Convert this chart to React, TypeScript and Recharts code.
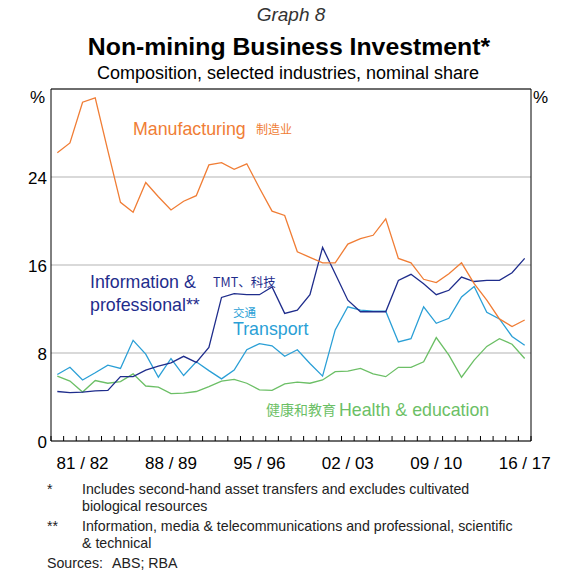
import React from 'react';
import {
  LineChart,
  Line,
  XAxis,
  YAxis,
  CartesianGrid,
  ReferenceLine,
} from 'recharts';

// financial years 1979/80 .. 2016/17
const years = [
  '79/80', '80/81', '81/82', '82/83', '83/84', '84/85', '85/86', '86/87', '87/88', '88/89',
  '89/90', '90/91', '91/92', '92/93', '93/94', '94/95', '95/96', '96/97', '97/98', '98/99',
  '99/00', '00/01', '01/02', '02/03', '03/04', '04/05', '05/06', '06/07', '07/08', '08/09',
  '09/10', '10/11', '11/12', '12/13', '13/14', '14/15', '15/16', '16/17',
];

const manufacturing = [
  26.2, 27.1, 30.8, 31.2, 26.4, 21.7, 20.8, 23.5, 22.2, 21.0,
  21.8, 22.3, 25.1, 25.3, 24.7, 25.2, 23.0, 20.9, 20.5, 17.2,
  16.7, 16.2, 16.2, 17.9, 18.4, 18.7, 20.2, 16.6, 16.2, 14.7,
  14.4, 15.2, 16.2, 14.3, 12.8, 11.1, 10.4, 11.0,
];

const infoProfessional = [
  4.5, 4.4, 4.45, 4.55, 4.6, 5.85, 5.85, 6.45, 6.8, 7.1,
  7.7, 7.15, 8.5, 13.05, 13.4, 13.3, 13.3, 14.0, 11.6, 11.9,
  13.3, 17.6, 15.2, 12.8, 11.75, 11.75, 11.75, 14.6, 15.15, 14.3,
  13.3, 13.7, 14.9, 14.5, 14.6, 14.6, 15.3, 16.6,
];

const transport = [
  6.05, 6.7, 5.55, 6.2, 6.9, 6.6, 9.15, 7.9, 5.8, 7.5,
  5.95, 7.2, 6.4, 5.65, 6.45, 8.3, 8.85, 8.65, 7.7, 8.3,
  7.05, 5.9, 10.1, 12.2, 11.9, 11.8, 11.8, 9.0, 9.3, 12.2,
  10.7, 11.15, 13.1, 14.05, 11.7, 11.1, 9.5, 8.7,
];

const healthEducation = [
  5.9, 5.45, 4.45, 5.5, 5.25, 5.4, 6.1, 5.0, 4.9, 4.3,
  4.35, 4.5, 4.95, 5.45, 5.6, 5.25, 4.65, 4.6, 5.2, 5.35,
  5.25, 5.55, 6.3, 6.35, 6.6, 6.1, 5.85, 6.7, 6.7, 7.2,
  9.4, 7.8, 5.8, 7.35, 8.6, 9.3, 8.8, 7.5,
];

const tickLabels = ['81 / 82', '88 / 89', '95 / 96', '02 / 03', '09 / 10', '16 / 17'];
const labelYears = ['81/82', '88/89', '95/96', '02/03', '09/10', '16/17'];
const yTicks = [0, 8, 16, 24];

const ORANGE = '#f07d35';
const NAVY = '#1f2d8c';
const LIGHTBLUE = '#2a9fd6';
const GREEN = '#6cbf66';
const FONT = '"Liberation Sans", Arial, sans-serif';
const CJK = '"Noto Sans CJK SC", sans-serif';

const data = years.map((y, i) => ({
  x: i + 0.5,
  year: y,
  manufacturing: manufacturing[i],
  info: infoProfessional[i],
  transport: transport[i],
  health: healthEducation[i],
}));

// one boundary tick per year, plus the label positions at interval centres
const boundaryTicks = Array.from({ length: years.length + 1 }, (_, i) => i);
const labelTicks = labelYears.map((l) => years.indexOf(l) + 0.5);

const XTick = (props: any) => {
  const { x, y, payload } = props;
  const v = payload.value as number;
  if (Number.isInteger(v)) {
    return <line x1={x} y1={y} x2={x} y2={y - 5} stroke="#000" strokeWidth={1} />;
  }
  const idx = labelTicks.indexOf(v);
  return (
    <text x={x} y={y + 28} textAnchor="middle" fontSize={17} fontFamily={FONT} fill="#000">
      {tickLabels[idx]}
    </text>
  );
};

const App = () => {
  return (
    <div style={{ position: 'absolute', left: 0, top: 0, width: 579, height: 576, background: '#fff', fontFamily: FONT }}>
      <LineChart
        width={579}
        height={480}
        data={data}
        margin={{ top: 89, right: 18, bottom: 9, left: 21 }}
      >
        <CartesianGrid yAxisId="left" vertical={false} stroke="#b3b3b3" strokeWidth={1} />
        <XAxis
          dataKey="x"
          type="number"
          domain={[0, years.length]}
          ticks={[...boundaryTicks, ...labelTicks]}
          interval={0}
          tickSize={0}
          tickMargin={0}
          tickLine={false}
          tick={<XTick />}
          axisLine={{ stroke: '#000', strokeWidth: 1 }}
          height={30}
        />
        <YAxis
          yAxisId="left"
          domain={[0, 32]}
          ticks={yTicks}
          interval={0}
          tickLine={false}
          tickSize={0}
          tickMargin={4}
          width={30}
          axisLine={{ stroke: '#000', strokeWidth: 1 }}
          tick={{ fontSize: 17, fill: '#000', fontFamily: FONT, dy: 1 }}
        />
        <YAxis
          yAxisId="right"
          orientation="right"
          domain={[0, 32]}
          ticks={yTicks}
          interval={0}
          tickLine={false}
          tickSize={0}
          tickMargin={3}
          width={30}
          axisLine={{ stroke: '#000', strokeWidth: 1 }}
          tick={{ fontSize: 17, fill: '#000', fontFamily: FONT, dy: 1 }}
        />
        <ReferenceLine yAxisId="left" y={32} stroke="#000" strokeWidth={1} />
        <Line yAxisId="left" dataKey="health" stroke={GREEN} strokeWidth={1.3} dot={false} isAnimationActive={false} />
        <Line yAxisId="left" dataKey="transport" stroke={LIGHTBLUE} strokeWidth={1.3} dot={false} isAnimationActive={false} />
        <Line yAxisId="left" dataKey="info" stroke={NAVY} strokeWidth={1.3} dot={false} isAnimationActive={false} />
        <Line yAxisId="left" dataKey="manufacturing" stroke={ORANGE} strokeWidth={1.3} dot={false} isAnimationActive={false} />
      </LineChart>

      <svg width={579} height={576} style={{ position: 'absolute', left: 0, top: 0, pointerEvents: 'none' }}>
        <text x={291} y={21} textAnchor="middle" fontSize={19} fontStyle="italic" fill="#333" fontFamily={FONT}>
          Graph 8
        </text>
        <text x={289} y={55} textAnchor="middle" fontSize={24.8} fontWeight="bold" fill="#000" fontFamily={FONT}>
          Non-mining Business Investment*
        </text>
        <text x={288} y={79} textAnchor="middle" fontSize={18} fill="#000" fontFamily={FONT}>
          Composition, selected industries, nominal share
        </text>

        <text x={45} y={103} textAnchor="end" fontSize={17} fill="#000" fontFamily={FONT}>%</text>
        <text x={533} y={103} textAnchor="start" fontSize={17} fill="#000" fontFamily={FONT}>%</text>

        <text x={133} y={135} fontSize={17.8} fill={ORANGE} fontFamily={FONT}>Manufacturing</text>
        <text x={256} y={134} fontSize={12} fill={ORANGE} fontFamily={CJK}>制造业</text>

        <text x={90} y={288} fontSize={17.8} fill={NAVY} fontFamily={FONT}>Information &amp;</text>
        <text x={90} y={311} fontSize={17.8} fill={NAVY} fontFamily={FONT}>professional**</text>
        <text x={213} y={287} fontSize={12.5} fill={NAVY} fontFamily={CJK}>TMT、科技</text>

        <text x={233} y={317} fontSize={11.5} fill={LIGHTBLUE} fontFamily={CJK}>交通</text>
        <text x={233} y={335} fontSize={17.8} fill={LIGHTBLUE} fontFamily={FONT}>Transport</text>

        <text x={266} y={415} fontSize={14} fill={GREEN} fontFamily={CJK}>健康和教育</text>
        <text x={339} y={416} fontSize={17.8} fill={GREEN} fontFamily={FONT}>Health &amp; education</text>

        <g fontSize={14.2} fill="#222" fontFamily={FONT}>
          <text x={47} y={494}>*</text>
          <text x={82} y={494}>Includes second-hand asset transfers and excludes cultivated</text>
          <text x={82} y={511}>biological resources</text>
          <text x={47} y={531}>**</text>
          <text x={82} y={531}>Information, media &amp; telecommunications and professional, scientific</text>
          <text x={82} y={548}>&amp; technical</text>
          <text x={47} y={568}>Sources:</text>
          <text x={112} y={568}>ABS; RBA</text>
        </g>
      </svg>
    </div>
  );
};

export default App;
